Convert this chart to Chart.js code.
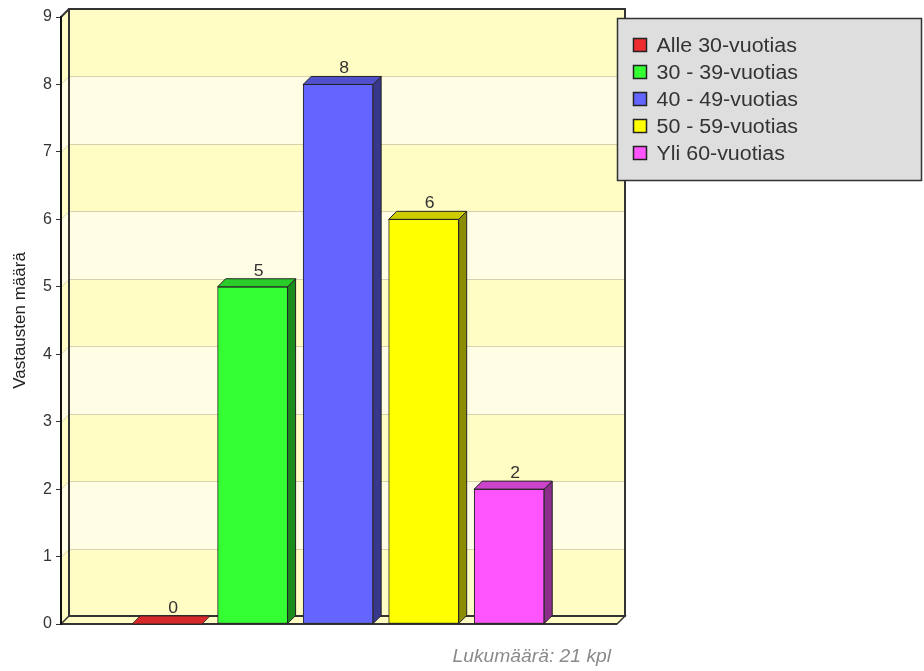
<!DOCTYPE html>
<html>
<head>
<meta charset="utf-8">
<script src="https://cdn.jsdelivr.net/npm/chart.js@4"></script>
<style>
  html, body { margin: 0; padding: 0; background: #fff; }
  #wrap { width: 924px; height: 671px; }
</style>
</head>
<body>
<div id="wrap"><canvas id="ageChart" width="924" height="671"></canvas></div>
<script>
const ageGroups = ['Alle 30-vuotias', '30 - 39-vuotias', '40 - 49-vuotias', '50 - 59-vuotias', 'Yli 60-vuotias'];
const answerCounts = [0, 5, 8, 6, 2];
const barColors = ['#EE2E2E', '#33FF33', '#6464FF', '#FFFF00', '#FF55FF'];
const yTicks = [0, 1, 2, 3, 4, 5, 6, 7, 8, 9];
const axisTitle = 'Vastausten määrä';
const totalLabel = 'Lukumäärä: 21 kpl';

const FONT = "'Liberation Sans', Arial, sans-serif";
const DEPTH = 8;

// darken a #rrggbb colour by factor f
function shade(hex, f) {
  const n = parseInt(hex.slice(1), 16);
  const r = Math.round(((n >> 16) & 255) * f);
  const g = Math.round(((n >> 8) & 255) * f);
  const b = Math.round((n & 255) * f);
  return `rgb(${r},${g},${b})`;
}

function poly(ctx, pts, fill, stroke, lw) {
  ctx.beginPath();
  ctx.moveTo(pts[0][0], pts[0][1]);
  for (let i = 1; i < pts.length; i++) ctx.lineTo(pts[i][0], pts[i][1]);
  ctx.closePath();
  if (fill) { ctx.fillStyle = fill; ctx.fill(); }
  if (stroke) { ctx.strokeStyle = stroke; ctx.lineWidth = lw || 1; ctx.stroke(); }
}

// text slightly widened horizontally
function wideText(ctx, text, x, y, sx) {
  ctx.save();
  ctx.translate(x, y);
  ctx.scale(sx, 1);
  ctx.fillText(text, 0, 0);
  ctx.restore();
}

// back wall, left wall and floor of the 3D box
const wallPlugin = {
  id: 'wall3d',
  beforeDraw(chart) {
    const { ctx, chartArea: a, scales: { y } } = chart;
    const d = DEPTH;
    ctx.save();
    for (let i = 0; i < yTicks.length - 1; i++) {
      const yb = y.getPixelForValue(yTicks[i]);
      const yt = y.getPixelForValue(yTicks[i + 1]);
      const c = i % 2 === 0 ? '#FFFCC4' : '#FFFEE4';
      ctx.fillStyle = c;
      ctx.fillRect(a.left + d, yt - d, a.right - a.left, yb - yt);
      poly(ctx, [[a.left, yb], [a.left + d, yb - d], [a.left + d, yt - d], [a.left, yt]], c);
    }
    ctx.strokeStyle = '#D6D2B0';
    ctx.lineWidth = 1;
    for (let i = 1; i < yTicks.length - 1; i++) {
      const yy = Math.round(y.getPixelForValue(yTicks[i])) + 0.5;
      ctx.beginPath();
      ctx.moveTo(a.left, yy);
      ctx.lineTo(a.left + d, yy - d);
      ctx.lineTo(a.right + d, yy - d);
      ctx.stroke();
    }
    // floor
    poly(ctx, [[a.left, a.bottom], [a.right, a.bottom], [a.right + d, a.bottom - d], [a.left + d, a.bottom - d]], '#FFFCC4', '#333', 1.5);
    // wall frame
    ctx.strokeStyle = '#333';
    ctx.lineWidth = 2;
    ctx.strokeRect(a.left + d, a.top - d, a.right - a.left, a.bottom - a.top);
    ctx.beginPath();
    ctx.moveTo(a.left, a.top);
    ctx.lineTo(a.left + d, a.top - d);
    ctx.stroke();
    ctx.beginPath();
    ctx.moveTo(a.left, a.bottom);
    ctx.lineTo(a.right, a.bottom);
    ctx.stroke();
    ctx.restore();
  }
};

// side and top faces of each bar, plus value labels
const barsPlugin = {
  id: 'bars3d',
  afterDatasetsDraw(chart) {
    const { ctx } = chart;
    const d = DEPTH;
    const meta = chart.getDatasetMeta(0);
    ctx.save();
    meta.data.forEach((bar, i) => {
      const { x, y, base, width } = bar.getProps(['x', 'y', 'base', 'width'], true);
      const l = x - width / 2, r = x + width / 2;
      const col = barColors[i];
      if (base - y > 0) {
        poly(ctx, [[r, y], [r + d, y - d], [r + d, base - d], [r, base]], shade(col, 0.55), '#222', 1);
        poly(ctx, [[l, y], [l + d, y - d], [r + d, y - d], [r, y]], shade(col, 0.8), '#222', 1);
      } else {
        poly(ctx, [[l, y], [l + d, y - d], [r + d, y - d], [r, y]], shade(col, 0.9), '#222', 0.8);
      }
      ctx.fillStyle = '#333';
      ctx.font = `16px ${FONT}`;
      ctx.textAlign = 'center';
      ctx.textBaseline = 'alphabetic';
      wideText(ctx, String(answerCounts[i]), x + d / 2 + 2, y - d - 3, 1.1);
    });
    ctx.restore();
  }
};

// legend box and total caption
const legendPlugin = {
  id: 'boxLegend',
  afterDraw(chart) {
    const { ctx, chartArea: a } = chart;
    ctx.save();
    const bx = a.right + 0.5, by = a.top + 1.5, bw = 304, bh = 162;
    ctx.fillStyle = '#DEDEDE';
    ctx.fillRect(bx, by, bw, bh);
    ctx.strokeStyle = '#333';
    ctx.lineWidth = 1.5;
    ctx.strokeRect(bx, by, bw, bh);
    ctx.font = `20px ${FONT}`;
    ctx.textAlign = 'left';
    ctx.textBaseline = 'middle';
    ageGroups.forEach((g, i) => {
      const cy = by + 27 + i * 27;
      ctx.fillStyle = barColors[i];
      ctx.fillRect(bx + 16, cy - 7, 13, 13);
      ctx.strokeStyle = '#222';
      ctx.lineWidth = 1.5;
      ctx.strokeRect(bx + 16, cy - 7, 13, 13);
      ctx.fillStyle = '#333';
      wideText(ctx, g, bx + 39, cy + 1, 1.07);
    });
    ctx.font = `italic 18px ${FONT}`;
    ctx.textAlign = 'right';
    ctx.fillStyle = '#8A8A8A';
    wideText(ctx, totalLabel, a.right - 6, 657, 1.07);
    ctx.restore();
  }
};

new Chart(document.getElementById('ageChart'), {
  type: 'bar',
  data: {
    datasets: [{
      data: answerCounts.map((v, i) => ({ x: i, y: v })),
      backgroundColor: barColors,
      borderColor: '#222',
      borderWidth: 1,
      borderSkipped: false,
      barThickness: 70
    }]
  },
  options: {
    responsive: false,
    animation: false,
    devicePixelRatio: 1,
    layout: { padding: { left: 0, top: 17, right: 307, bottom: 47 } },
    plugins: { legend: { display: false }, tooltip: { enabled: false } },
    scales: {
      x: { type: 'linear', display: false, offset: false, min: -1.24, max: 5.26 },
      y: {
        min: 0,
        max: 9,
        afterBuildTicks: s => { s.ticks = yTicks.map(v => ({ value: v })); },
        afterFit: s => { s.width = 61; },
        ticks: { color: '#333', font: { size: 16, family: FONT }, padding: 4 },
        grid: { drawOnChartArea: false, drawTicks: true, tickLength: 5, color: '#333' },
        border: { display: true, color: '#111', width: 2 },
        title: { display: true, text: axisTitle, color: '#222', font: { size: 17, family: FONT }, padding: { top: 10, bottom: 0 } }
      }
    }
  },
  plugins: [wallPlugin, barsPlugin, legendPlugin]
});
</script>
</body>
</html>
